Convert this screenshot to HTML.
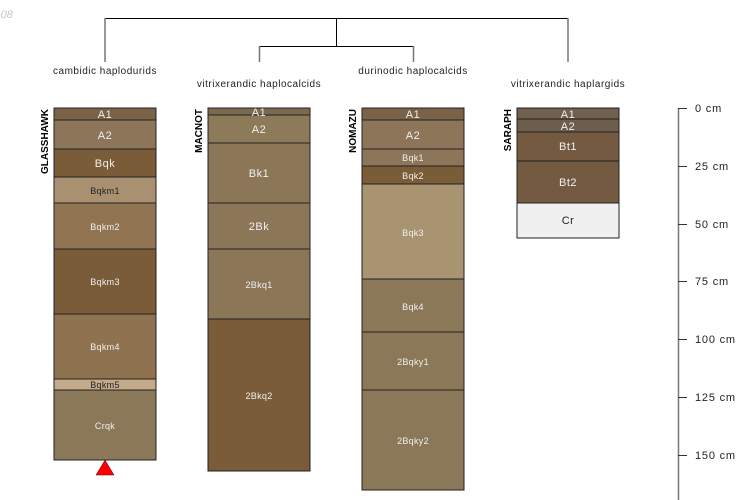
<!DOCTYPE html>
<html><head><meta charset="utf-8"><style>
body{margin:0;background:#fff}
svg{display:block;font-family:"Liberation Sans",sans-serif}
</style></head><body>
<svg width="750" height="500" viewBox="0 0 750 500" xmlns="http://www.w3.org/2000/svg">
<text x="-3" y="18" font-size="11" font-style="italic" fill="#c8c8c8">-08</text>
<g stroke="#000" stroke-width="1" fill="none">
<path d="M105 18.5H568.5M336.5 18V46.5M259.5 46.5H413.5"/>
</g>
<g stroke="#777" stroke-width="1.5" fill="none">
<path d="M105 18V62M568 18V62M259.5 46V62M413.5 46V62"/>
</g>
<g font-size="10" fill="#222" text-anchor="middle" letter-spacing="0.5">
<text x="105" y="74">cambidic haplodurids</text>
<text x="259" y="87">vitrixerandic haplocalcids</text>
<text x="413" y="74">durinodic haplocalcids</text>
<text x="568" y="87">vitrixerandic haplargids</text>
</g>
<g font-size="10" font-weight="bold" fill="#000">
<text transform="translate(48,109) rotate(-90)" text-anchor="end">GLASSHAWK</text>
<text transform="translate(202,109) rotate(-90)" text-anchor="end">MACNOT</text>
<text transform="translate(356,109) rotate(-90)" text-anchor="end">NOMAZU</text>
<text transform="translate(511,109) rotate(-90)" text-anchor="end">SARAPH</text>
</g>
<g stroke="#222" stroke-width="1">
<rect x="54" y="108" width="102" height="12" fill="#7a6248"/>
<rect x="54" y="120" width="102" height="29" fill="#8c7558"/>
<rect x="54" y="149" width="102" height="28" fill="#7a5c38"/>
<rect x="54" y="177" width="102" height="26" fill="#a89070"/>
<rect x="54" y="203" width="102" height="46" fill="#917552"/>
<rect x="54" y="249" width="102" height="65" fill="#7a5c38"/>
<rect x="54" y="314" width="102" height="65" fill="#8f7350"/>
<rect x="54" y="379" width="102" height="11" fill="#c4aa88"/>
<rect x="54" y="390" width="102" height="70" fill="#8a7858"/>

<rect x="208" y="108" width="102" height="7" fill="#7b6a4e"/>
<rect x="208" y="115" width="102" height="28" fill="#8c7a58"/>
<rect x="208" y="143" width="102" height="60" fill="#8c7658"/>
<rect x="208" y="203" width="102" height="46" fill="#8c7658"/>
<rect x="208" y="249" width="102" height="70" fill="#8c7658"/>
<rect x="208" y="319" width="102" height="152" fill="#7a5c38"/>

<rect x="362" y="108" width="102" height="12" fill="#7a6248"/>
<rect x="362" y="120" width="102" height="29" fill="#8c7558"/>
<rect x="362" y="149" width="102" height="17" fill="#8c7558"/>
<rect x="362" y="166" width="102" height="18" fill="#7a5c38"/>
<rect x="362" y="184" width="102" height="95" fill="#a89470"/>
<rect x="362" y="279" width="102" height="53" fill="#8a7858"/>
<rect x="362" y="332" width="102" height="58" fill="#8a7858"/>
<rect x="362" y="390" width="102" height="100" fill="#8a7858"/>

<rect x="517" y="108" width="102" height="11" fill="#706050"/>
<rect x="517" y="119" width="102" height="13" fill="#6e5e4c"/>
<rect x="517" y="132" width="102" height="29" fill="#735a40"/>
<rect x="517" y="161" width="102" height="42" fill="#735a40"/>
<rect x="517" y="203" width="102" height="35" fill="#f0f0f0"/>
</g>
<polygon points="105,460 96,475 114,475" fill="#f00" stroke="#600" stroke-width="0.5"/>
<g text-anchor="middle" fill="#f0f0f0">
<g font-size="11" letter-spacing="0.5">
<text x="105" y="118">A1</text><text x="105" y="139">A2</text><text x="105" y="167">Bqk</text>
<text x="259" y="116">A1</text><text x="259" y="133">A2</text><text x="259" y="177">Bk1</text><text x="259" y="230">2Bk</text>
<text x="413" y="118">A1</text><text x="413" y="139">A2</text>
<text x="568" y="118">A1</text><text x="568" y="130">A2</text><text x="568" y="150">Bt1</text><text x="568" y="186">Bt2</text>
<text x="568" y="224" fill="#222">Cr</text>
</g>
<g font-size="9" letter-spacing="0.3">
<text x="105" y="194" fill="#222">Bqkm1</text><text x="105" y="230">Bqkm2</text><text x="105" y="285">Bqkm3</text>
<text x="105" y="350">Bqkm4</text><text x="105" y="388" fill="#222">Bqkm5</text><text x="105" y="429">Crqk</text>
<text x="259" y="288">2Bkq1</text><text x="259" y="399">2Bkq2</text>
<text x="413" y="161">Bqk1</text><text x="413" y="179">Bqk2</text><text x="413" y="236">Bqk3</text>
<text x="413" y="310">Bqk4</text><text x="413" y="365">2Bqky1</text><text x="413" y="444">2Bqky2</text>
</g>
</g>
<g stroke="#777" stroke-width="1.5">
<line x1="678.5" y1="108" x2="678.5" y2="500"/>
</g>
<g stroke="#333" stroke-width="1">
<path d="M678 108.5H687M678 166.5H687M678 224.5H687M678 281.5H687M678 339.5H687M678 397.5H687M678 455.5H687"/>
</g>
<g font-size="11" fill="#222" letter-spacing="0.8">
<text x="695" y="112">0 cm</text><text x="695" y="170">25 cm</text><text x="695" y="228">50 cm</text>
<text x="695" y="285">75 cm</text><text x="695" y="343">100 cm</text><text x="695" y="401">125 cm</text>
<text x="695" y="459">150 cm</text>
</g>
</svg>
</body></html>
